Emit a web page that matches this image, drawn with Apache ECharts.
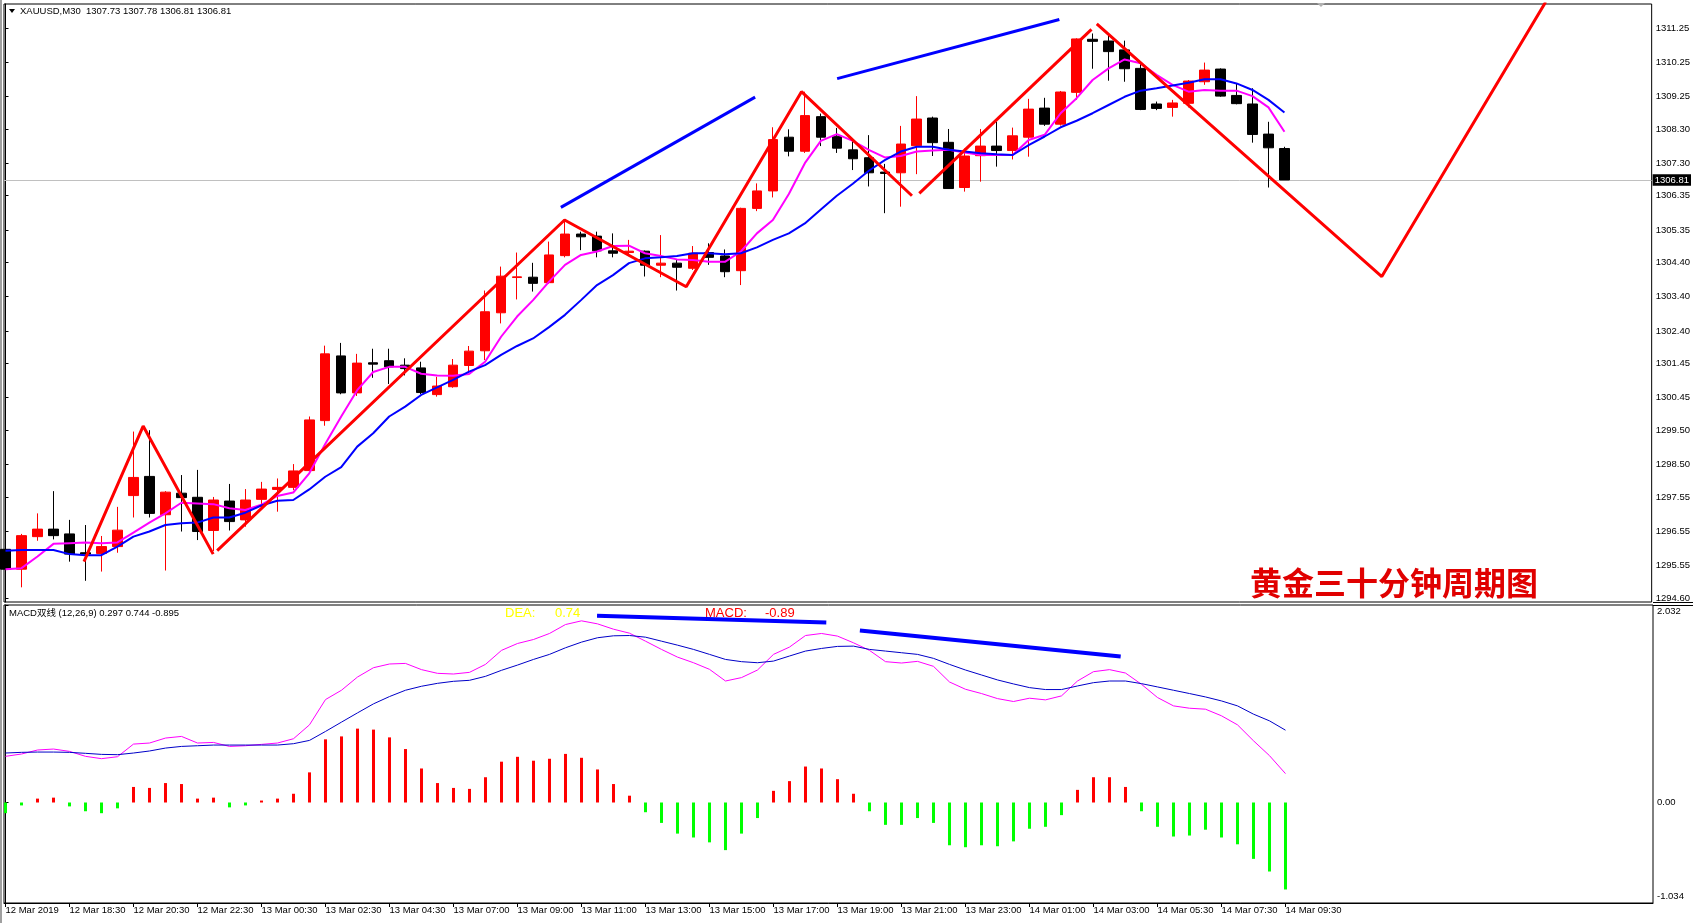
<!DOCTYPE html>
<html>
<head>
<meta charset="utf-8">
<script src="https://cdn.jsdelivr.net/npm/echarts@6/dist/echarts.min.js"></script>
<style>
  html, body { margin: 0; padding: 0; background: #fff; }
  #chart { width: 1693px; height: 923px; }
</style>
</head>
<body>
<div id="chart"></div>
<script>
// x 轴刻度（每 4 根 K 线一个）
const tickLabels = ['12 Mar 2019', '12 Mar 18:30', '12 Mar 20:30', '12 Mar 22:30', '13 Mar 00:30', '13 Mar 02:30',
  '13 Mar 04:30', '13 Mar 07:00', '13 Mar 09:00', '13 Mar 11:00', '13 Mar 13:00', '13 Mar 15:00', '13 Mar 17:00',
  '13 Mar 19:00', '13 Mar 21:00', '13 Mar 23:00', '14 Mar 01:00', '14 Mar 03:00', '14 Mar 05:30', '14 Mar 07:30',
  '14 Mar 09:30'];
const priceTicks = [1294.60, 1295.55, 1296.55, 1297.55, 1298.50, 1299.50, 1300.45, 1301.45, 1302.40, 1303.40,
  1304.40, 1305.35, 1306.35, 1307.30, 1308.30, 1309.25, 1310.25, 1311.25];
const macdTicks = [-1.034, 0, 2.032];

// K 线
const opens = [1296.02, 1295.44, 1296.39, 1296.61, 1296.47, 1295.92, 1295.90, 1296.10, 1297.59, 1298.15,
  1297.03, 1297.66, 1297.54, 1296.57, 1297.43, 1296.88, 1297.48, 1297.77, 1297.83, 1298.32,
  1299.78, 1301.67, 1300.59, 1301.47, 1301.53, 1301.40, 1301.32, 1300.54, 1300.77, 1301.39,
  1301.82, 1302.93, 1303.96, 1303.97, 1303.81, 1304.60, 1305.23, 1305.17, 1304.74, 1304.69,
  1304.73, 1304.32, 1304.38, 1304.23, 1304.69, 1304.59, 1304.16, 1305.98, 1306.49, 1308.06,
  1307.65, 1308.66, 1308.09, 1307.69, 1307.46, 1307.04, 1307.02, 1307.81, 1308.62, 1307.91,
  1306.59, 1307.52, 1307.80, 1307.67, 1308.06, 1308.91, 1308.44, 1309.37, 1310.92, 1310.87,
  1310.61, 1310.07, 1309.03, 1308.93, 1309.05, 1309.68, 1310.05, 1309.28, 1309.03, 1308.15,
  1307.73];
const highs = [1296.05, 1296.47, 1297.07, 1297.72, 1296.88, 1296.73, 1296.41, 1297.26, 1299.46, 1299.50,
  1297.72, 1298.19, 1298.34, 1297.55, 1297.93, 1297.78, 1297.99, 1298.09, 1298.51, 1299.90,
  1301.97, 1302.05, 1301.73, 1301.88, 1301.88, 1301.60, 1301.50, 1301.06, 1301.58, 1301.96,
  1303.58, 1304.28, 1304.69, 1304.39, 1305.01, 1305.64, 1305.30, 1305.30, 1305.25, 1305.06,
  1304.75, 1305.20, 1304.47, 1304.88, 1304.96, 1304.78, 1306.00, 1306.71, 1308.35, 1308.29,
  1309.39, 1308.75, 1308.33, 1308.00, 1308.12, 1307.28, 1308.39, 1309.26, 1308.66, 1308.30,
  1307.73, 1308.30, 1308.51, 1308.34, 1309.18, 1309.21, 1309.41, 1310.95, 1311.09, 1311.02,
  1310.88, 1310.20, 1309.10, 1309.15, 1309.73, 1310.24, 1310.07, 1309.63, 1309.49, 1308.51,
  1307.78];
const lows = [1294.93, 1294.91, 1296.27, 1296.31, 1295.66, 1295.10, 1295.37, 1295.92, 1296.95, 1296.95,
  1295.40, 1296.54, 1296.29, 1295.97, 1296.57, 1296.68, 1297.22, 1297.12, 1297.75, 1298.30,
  1299.63, 1300.55, 1300.50, 1301.03, 1300.85, 1301.10, 1300.55, 1300.48, 1300.74, 1301.16,
  1301.55, 1302.62, 1303.32, 1303.55, 1303.78, 1304.55, 1304.76, 1304.55, 1304.55, 1304.59,
  1303.99, 1303.97, 1303.58, 1304.18, 1304.33, 1303.97, 1303.74, 1305.90, 1306.30, 1307.50,
  1307.60, 1307.80, 1307.60, 1307.10, 1306.62, 1305.84, 1306.03, 1306.98, 1307.51, 1306.56,
  1306.47, 1306.76, 1307.20, 1307.41, 1307.49, 1308.39, 1308.40, 1309.15, 1310.06, 1309.71,
  1309.68, 1308.85, 1308.85, 1308.66, 1308.93, 1309.59, 1309.24, 1309.02, 1307.90, 1306.59,
  1306.81];
const closes = [1295.44, 1296.42, 1296.61, 1296.42, 1295.88, 1295.88, 1296.10, 1296.58, 1298.12, 1297.07,
  1297.69, 1297.53, 1296.54, 1297.46, 1296.83, 1297.46, 1297.78, 1297.83, 1298.31, 1299.80,
  1301.73, 1300.59, 1301.46, 1301.43, 1301.35, 1301.30, 1300.60, 1300.79, 1301.40, 1301.81,
  1302.96, 1304.00, 1303.98, 1303.79, 1304.62, 1305.23, 1305.15, 1304.74, 1304.67, 1304.73,
  1304.32, 1304.38, 1304.26, 1304.67, 1304.55, 1304.13, 1305.98, 1306.49, 1307.99, 1307.65,
  1308.69, 1308.06, 1307.74, 1307.43, 1307.02, 1307.00, 1307.86, 1308.59, 1307.90, 1306.56,
  1307.51, 1307.80, 1307.67, 1308.10, 1308.88, 1308.44, 1309.38, 1310.93, 1310.86, 1310.56,
  1310.06, 1308.87, 1308.90, 1309.06, 1309.70, 1310.02, 1309.26, 1309.04, 1308.14, 1307.75,
  1306.81];

// 均线
const maFast = [1295.44, 1295.47, 1295.81, 1296.18, 1296.20, 1296.22, 1296.20, 1296.22, 1296.51, 1296.80,
  1297.07, 1297.38, 1297.36, 1297.34, 1297.22, 1297.17, 1297.32, 1297.58, 1297.68, 1298.24,
  1299.10, 1299.90, 1300.67, 1301.20, 1301.35, 1301.35, 1301.15, 1301.10, 1301.09, 1301.14,
  1301.50, 1302.23, 1302.82, 1303.30, 1303.84, 1304.33, 1304.62, 1304.72, 1304.88, 1304.89,
  1304.67, 1304.59, 1304.49, 1304.47, 1304.42, 1304.42, 1304.72, 1305.25, 1305.64, 1306.40,
  1307.30, 1307.95, 1308.15, 1307.95, 1307.69, 1307.47, 1307.51, 1307.64, 1307.67, 1307.69,
  1307.61, 1307.54, 1307.54, 1307.54, 1307.98, 1308.13, 1308.76, 1309.20, 1309.73, 1310.07,
  1310.33, 1310.22, 1309.88, 1309.59, 1309.39, 1309.44, 1309.42, 1309.42, 1309.26, 1308.93,
  1308.22];
const maSlow = [1295.98, 1296.00, 1296.00, 1296.00, 1295.88, 1295.85, 1295.85, 1296.10, 1296.39, 1296.54,
  1296.73, 1296.78, 1296.80, 1296.95, 1296.95, 1297.09, 1297.30, 1297.44, 1297.46, 1297.77,
  1298.14, 1298.42, 1299.02, 1299.41, 1299.90, 1300.19, 1300.53, 1300.75, 1300.97, 1301.21,
  1301.40, 1301.70, 1301.96, 1302.18, 1302.51, 1302.87, 1303.30, 1303.74, 1304.03, 1304.38,
  1304.52, 1304.55, 1304.59, 1304.67, 1304.67, 1304.64, 1304.67, 1304.84, 1305.06, 1305.25,
  1305.54, 1305.95, 1306.35, 1306.70, 1307.08, 1307.39, 1307.64, 1307.78, 1307.78, 1307.69,
  1307.64, 1307.59, 1307.56, 1307.54, 1307.83, 1308.08, 1308.35, 1308.54, 1308.76, 1309.00,
  1309.24, 1309.42, 1309.49, 1309.57, 1309.65, 1309.75, 1309.75, 1309.63, 1309.44, 1309.15,
  1308.78];

// MACD 双线
const dif = [0.475, 0.499, 0.540, 0.550, 0.526, 0.475, 0.451, 0.471, 0.601, 0.612,
  0.663, 0.680, 0.612, 0.618, 0.577, 0.584, 0.598, 0.612, 0.656, 0.799,
  1.059, 1.155, 1.291, 1.387, 1.425, 1.431, 1.367, 1.329, 1.322, 1.339,
  1.421, 1.565, 1.636, 1.677, 1.739, 1.831, 1.869, 1.838, 1.783, 1.742,
  1.660, 1.575, 1.496, 1.438, 1.370, 1.250, 1.285, 1.363, 1.524, 1.599,
  1.718, 1.739, 1.712, 1.643, 1.565, 1.449, 1.435, 1.452, 1.401, 1.240,
  1.165, 1.121, 1.069, 1.039, 1.073, 1.056, 1.097, 1.250, 1.346, 1.367,
  1.332, 1.216, 1.080, 0.994, 0.970, 0.960, 0.892, 0.799, 0.635, 0.482,
  0.297];
const dea = [0.509, 0.516, 0.519, 0.519, 0.516, 0.506, 0.495, 0.492, 0.509, 0.530,
  0.560, 0.577, 0.584, 0.591, 0.591, 0.591, 0.591, 0.591, 0.605, 0.639,
  0.731, 0.827, 0.922, 1.015, 1.090, 1.155, 1.196, 1.226, 1.247, 1.257,
  1.298, 1.360, 1.414, 1.472, 1.524, 1.592, 1.650, 1.695, 1.715, 1.718,
  1.701, 1.660, 1.619, 1.575, 1.524, 1.472, 1.449, 1.438, 1.455, 1.507,
  1.558, 1.585, 1.606, 1.609, 1.575, 1.558, 1.541, 1.524, 1.483, 1.421,
  1.363, 1.312, 1.261, 1.220, 1.182, 1.162, 1.162, 1.199, 1.233, 1.250,
  1.250, 1.223, 1.189, 1.155, 1.121, 1.086, 1.045, 0.994, 0.909, 0.840,
  0.744];
const hist = [-0.11, -0.03, 0.04, 0.05, -0.04, -0.09, -0.11, -0.06, 0.16, 0.15,
  0.20, 0.19, 0.04, 0.05, -0.05, -0.03, 0.02, 0.04, 0.09, 0.31,
  0.65, 0.68, 0.76, 0.75, 0.67, 0.55, 0.35, 0.20, 0.15, 0.14,
  0.26, 0.42, 0.47, 0.43, 0.45, 0.50, 0.46, 0.34, 0.19, 0.07,
  -0.10, -0.21, -0.32, -0.36, -0.41, -0.49, -0.32, -0.16, 0.12, 0.22,
  0.37, 0.35, 0.24, 0.09, -0.09, -0.23, -0.23, -0.16, -0.21, -0.44,
  -0.46, -0.44, -0.45, -0.40, -0.27, -0.25, -0.13, 0.13, 0.26, 0.26,
  0.16, -0.09, -0.25, -0.35, -0.34, -0.28, -0.36, -0.43, -0.58, -0.71,
  -0.895];

// 手画的线：[K线序号, 数值]
const zigzagA = [[4.91, 1295.66], [8.61, 1299.62], [12.99, 1295.88]];
const zigzagB = [[13.24, 1295.98], [34.97, 1305.64], [42.58, 1303.69], [49.79, 1309.39], [56.70, 1306.35]];
const zigzagC = [[57.16, 1306.42], [67.93, 1311.21]];
const zigzagD = [[68.26, 1311.37], [86.09, 1303.99], [96.34, 1312.01]];
const trendUp1 = [[34.74, 1306.01], [46.89, 1309.23]];
const trendUp2 = [[52.02, 1309.77], [65.92, 1311.50]];
const macdTrend1 = [[36.97, 1.921], [51.30, 1.853]];
const macdTrend2 = [[53.40, 1.770], [69.70, 1.502]];

const lastPrice = 1306.81;
const FONT = '"Liberation Sans", "Noto Sans CJK SC", sans-serif';

const chart = echarts.init(document.getElementById('chart'));

const candleData = opens.map((o, i) => [i, o, closes[i], lows[i], highs[i]]);
const withIndex = arr => arr.map((v, i) => [i, v]);
const tickIdx = tickLabels.map((_, i) => i * 4);

const xCommon = { type: 'value', min: -0.094, max: 102.97 };

const lineSeries = (name, data, color, width, x, y, z) => ({
  name, type: 'line', data, xAxisIndex: x, yAxisIndex: y,
  symbol: 'none', silent: true, z,
  lineStyle: { color, width }
});

const option = {
  animation: false,
  backgroundColor: '#fff',
  grid: [
    { left: 4, top: 4, width: 1649, height: 598, show: true, borderColor: '#000', borderWidth: 1 },
    { left: 4, top: 605, width: 1649, height: 298, show: true, borderColor: '#000', borderWidth: 1 }
  ],
  xAxis: [
    { ...xCommon, gridIndex: 0, show: false },
    {
      ...xCommon, gridIndex: 1,
      axisLine: { show: true, onZero: false, lineStyle: { color: '#000' } },
      splitLine: { show: false },
      axisTick: { show: true, customValues: tickIdx, length: 4, lineStyle: { color: '#000' } },
      axisLabel: {
        customValues: tickIdx,
        formatter: v => tickLabels[Math.round(v / 4)],
        align: 'left', margin: 3, color: '#000', fontSize: 9.5, fontFamily: FONT
      }
    }
  ],
  yAxis: [
    {
      type: 'value', gridIndex: 0, position: 'right',
      min: 1294.481, max: 1311.951,
      axisLine: { show: true, lineStyle: { color: '#000' } },
      splitLine: { show: false },
      axisTick: { show: true, customValues: priceTicks, length: 3, lineStyle: { color: '#000' } },
      axisLabel: {
        customValues: priceTicks,
        formatter: v => v.toFixed(2),
        margin: 4, color: '#000', fontSize: 9.5, fontFamily: FONT
      }
    },
    {
      type: 'value', gridIndex: 1, position: 'right',
      min: -1.034, max: 2.032,
      axisLine: { show: true, lineStyle: { color: '#000' } },
      splitLine: { show: false },
      axisTick: { show: true, customValues: macdTicks, length: 3, lineStyle: { color: '#000' } },
      axisLabel: {
        customValues: macdTicks,
        formatter: v => v > 1 ? '{t|2.032}' : (v < -1 ? '{b|-1.034}' : '0.00'),
        margin: 4, color: '#000', fontSize: 9.5, fontFamily: FONT,
        rich: {
          t: { padding: [12, 0, 0, 0], fontSize: 9.5, fontFamily: FONT, color: '#000' },
          b: { padding: [0, 0, 14, 0], fontSize: 9.5, fontFamily: FONT, color: '#000' }
        }
      }
    }
  ],
  series: [
    {
      name: 'XAUUSD', type: 'candlestick', xAxisIndex: 0, yAxisIndex: 0,
      data: candleData,
      dimensions: ['idx', 'open', 'close', 'lowest', 'highest'],
      encode: { x: 'idx', y: ['open', 'close', 'lowest', 'highest'] },
      barWidth: 10, z: 2,
      itemStyle: { color: '#ff0000', color0: '#000000', borderColor: '#ff0000', borderColor0: '#000000', borderWidth: 1 },
      markLine: {
        silent: true, symbol: ['none', 'none'], z: 1,
        lineStyle: { color: '#c0c0c0', width: 1, type: 'solid' },
        label: {
          show: true, position: 'end', distance: 1, formatter: lastPrice.toFixed(2),
          backgroundColor: '#000', color: '#fff', padding: [1, 2, 1, 2], fontSize: 9.5, fontFamily: FONT
        },
        data: [{ yAxis: lastPrice }]
      }
    },
    lineSeries('MA fast', withIndex(maFast), '#ff00ff', 2, 0, 0, 3),
    lineSeries('MA slow', withIndex(maSlow), '#0000ff', 2, 0, 0, 3),
    lineSeries('zz A', zigzagA, '#ff0000', 3, 0, 0, 4),
    lineSeries('zz B', zigzagB, '#ff0000', 3, 0, 0, 4),
    lineSeries('zz C', zigzagC, '#ff0000', 3, 0, 0, 4),
    lineSeries('zz D', zigzagD, '#ff0000', 3, 0, 0, 4),
    lineSeries('trend 1', trendUp1, '#0000ff', 3, 0, 0, 4),
    lineSeries('trend 2', trendUp2, '#0000ff', 3, 0, 0, 4),
    {
      name: 'MACD', type: 'bar', xAxisIndex: 1, yAxisIndex: 1,
      data: withIndex(hist), barWidth: 3, silent: true,
      itemStyle: { color: p => (p.value[1] >= 0 ? '#ff0000' : '#00ff00') }
    },
    lineSeries('DIF', withIndex(dif), '#ff00ff', 1, 1, 1, 3),
    lineSeries('DEA', withIndex(dea), '#0000c8', 1, 1, 1, 3),
    lineSeries('macd trend 1', macdTrend1, '#0000ff', 4, 1, 1, 4),
    lineSeries('macd trend 2', macdTrend2, '#0000ff', 4, 1, 1, 4)
  ],
  graphic: [
    { type: 'rect', silent: true, shape: { x: 0, y: 0, width: 2, height: 923 }, style: { fill: '#a0a0a0' } },
    { type: 'line', silent: true, shape: { x1: 1653, y1: 602.5, x2: 1693, y2: 602.5 }, style: { stroke: '#000', lineWidth: 1 } },
    { type: 'line', silent: true, shape: { x1: 1653, y1: 605.5, x2: 1693, y2: 605.5 }, style: { stroke: '#000', lineWidth: 1 } },
    { type: 'polygon', silent: true, shape: { points: [[9, 9], [15, 9], [12, 13]] }, style: { fill: '#000' } },
    { type: 'polygon', silent: true, shape: { points: [[1317, 3], [1325, 3], [1321, 7]] }, style: { fill: '#b0b0b0' } },
    {
      type: 'text', silent: true, x: 20, y: 11,
      style: { text: 'XAUUSD,M30  1307.73 1307.78 1306.81 1306.81', font: '9.5px ' + FONT, fill: '#000', verticalAlign: 'middle' }
    },
    {
      type: 'text', silent: true, x: 9, y: 613,
      style: { text: 'MACD双线 (12,26,9) 0.297 0.744 -0.895', font: '9.5px ' + FONT, fill: '#000', verticalAlign: 'middle' }
    },
    { type: 'text', silent: true, x: 505, y: 613, style: { text: 'DEA:', font: '13px ' + FONT, fill: '#ffff00', verticalAlign: 'middle' } },
    { type: 'text', silent: true, x: 555, y: 613, style: { text: '0.74', font: '13px ' + FONT, fill: '#ffff00', verticalAlign: 'middle' } },
    { type: 'text', silent: true, x: 705, y: 613, style: { text: 'MACD:', font: '13px ' + FONT, fill: '#ff0000', verticalAlign: 'middle' } },
    { type: 'text', silent: true, x: 765, y: 613, style: { text: '-0.89', font: '13px ' + FONT, fill: '#ff0000', verticalAlign: 'middle' } },
    {
      type: 'text', silent: true, x: 1250, y: 583, z: 10,
      style: { text: '黄金三十分钟周期图', font: 'bold 32px "Noto Sans CJK SC"', fill: '#e00000', verticalAlign: 'middle' }
    }
  ]
};

chart.setOption(option);

window.addEventListener('resize', () => chart.resize());
</script>
</body>
</html>
